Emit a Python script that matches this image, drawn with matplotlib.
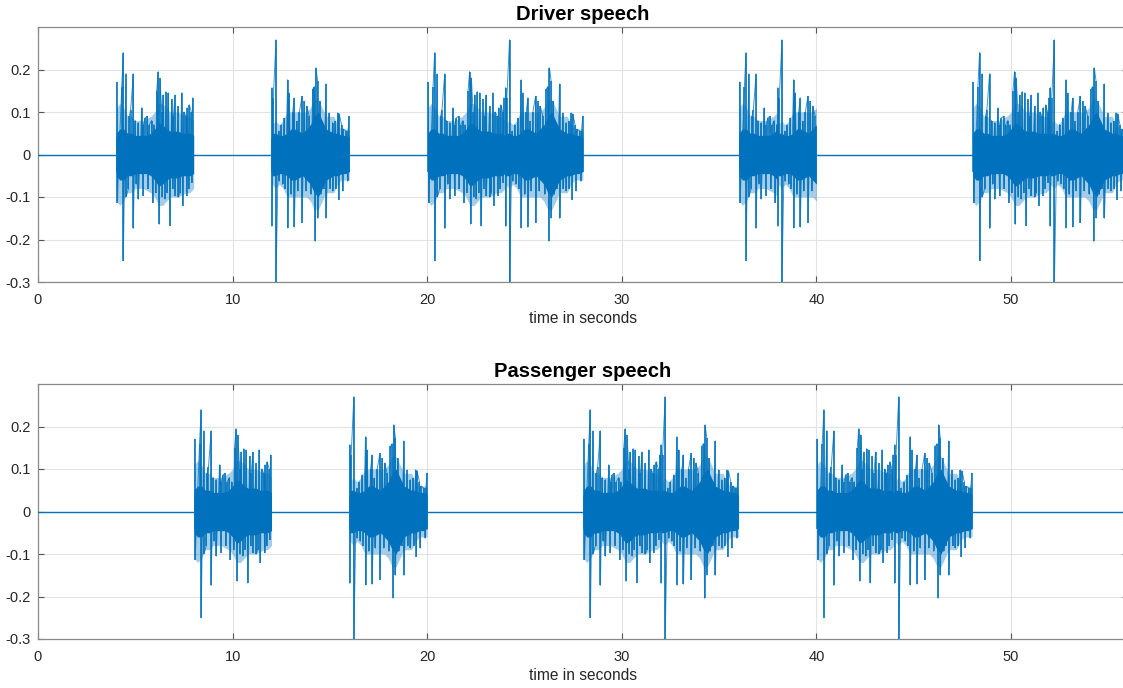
import numpy as np
import matplotlib
matplotlib.use("Agg")
import matplotlib.pyplot as plt

plt.rcParams['font.family'] = ['Liberation Sans', 'DejaVu Sans']
plt.rcParams['axes.unicode_minus'] = False

# ---------------- data ----------------
# Utterance A (4 s): positive peaks, negative peaks, dense core and hairy mid band amplitude
A_up_t = [0.05, 0.30, 0.385, 0.52, 0.69, 0.76, 0.90, 1.00, 1.16, 1.33, 1.42, 1.50, 1.62, 1.72, 1.84,
          1.95, 2.10, 2.18, 2.27, 2.36, 2.44, 2.58, 2.70, 2.87, 2.96, 3.04, 3.21, 3.38, 3.50, 3.60,
          3.67, 3.78, 3.88, 3.95]
A_up_v = [0.17, 0.16, 0.24, 0.19, 0.09, 0.105, 0.19, 0.08, 0.075, 0.11, 0.07, 0.086, 0.09, 0.07, 0.08,
          0.07, 0.15, 0.195, 0.18, 0.10, 0.14, 0.148, 0.145, 0.13, 0.09, 0.14, 0.113, 0.145, 0.10, 0.09,
          0.11, 0.117, 0.10, 0.133]
A_dn_t = [0.077, 0.385, 0.52, 0.65, 0.90, 1.05, 1.16, 1.41, 1.65, 1.89, 2.05, 2.23, 2.38, 2.53, 2.65,
          2.78, 2.92, 3.04, 3.21, 3.30, 3.43, 3.64, 3.75, 3.90]
A_dn_v = [-0.113, -0.25, -0.10, -0.08, -0.174, -0.07, -0.105, -0.097, -0.08, -0.113, -0.09, -0.164, -0.10,
          -0.105, -0.09, -0.168, -0.08, -0.097, -0.10, -0.09, -0.12, -0.097, -0.08, -0.066]
A_core = [0.05, 0.06, 0.06, 0.05, 0.05, 0.045, 0.045, 0.045, 0.045, 0.05, 0.06, 0.075, 0.07, 0.06,
          0.055, 0.055, 0.055, 0.05, 0.05, 0.05, 0.045]
A_mid = [0.11, 0.12, 0.11, 0.09, 0.09, 0.08, 0.08, 0.08, 0.085, 0.09, 0.10, 0.12, 0.12, 0.11,
         0.10, 0.10, 0.10, 0.095, 0.09, 0.09, 0.08]

# Utterance B (4 s)
B_up_t = [0.024, 0.093, 0.23, 0.37, 0.50, 0.66, 0.83, 0.915, 1.09, 1.17, 1.29, 1.43, 1.57, 1.69, 1.81,
          1.94, 2.11, 2.20, 2.28, 2.37, 2.49, 2.63, 2.80, 2.97, 3.14, 3.28, 3.40, 3.48, 3.60, 3.69,
          3.83, 3.93, 3.99]
B_up_v = [0.157, 0.133, 0.27, 0.055, 0.07, 0.086, 0.176, 0.145, 0.10, 0.133, 0.078, 0.10, 0.137, 0.125,
          0.114, 0.09, 0.153, 0.16, 0.204, 0.173, 0.125, 0.067, 0.166, 0.098, 0.075, 0.078, 0.098, 0.096,
          0.07, 0.06, 0.055, 0.055, 0.09]
B_dn_t = [0.024, 0.23, 0.40, 0.57, 0.70, 0.83, 1.00, 1.17, 1.34, 1.57, 1.77, 2.03, 2.25, 2.37, 2.54,
          2.68, 2.80, 3.00, 3.14, 3.30, 3.45, 3.65, 3.91]
B_dn_v = [-0.169, -0.30, -0.063, -0.07, -0.08, -0.173, -0.094, -0.171, -0.086, -0.16, -0.086, -0.094,
          -0.204, -0.15, -0.094, -0.08, -0.15, -0.08, -0.086, -0.08, -0.106, -0.086, -0.063]
B_core = [0.05, 0.05, 0.045, 0.045, 0.05, 0.06, 0.06, 0.055, 0.05, 0.06, 0.07, 0.09, 0.10, 0.08,
          0.06, 0.055, 0.05, 0.05, 0.045, 0.045, 0.04]
B_mid = [0.07, 0.08, 0.07, 0.08, 0.10, 0.10, 0.10, 0.10, 0.10, 0.10, 0.11, 0.13, 0.13, 0.11,
         0.09, 0.09, 0.09, 0.07, 0.06, 0.06, 0.06]

# Where each utterance is played (start s, utterance, seconds played)
driver_starts = [4, 12, 20, 24, 36, 38, 48, 52]
driver_utts = ['A', 'B', 'A', 'B', 'A', 'B', 'A', 'B']
driver_durs = [4, 4, 4, 4, 2, 2, 4, 4]
passenger_starts = [8, 16, 28, 32, 40, 44]
passenger_utts = ['A', 'B', 'A', 'B', 'A', 'B']
passenger_durs = [4, 4, 4, 4, 4, 4]
signal_length = 56

titles = ['Driver speech', 'Passenger speech']
xticks = [0, 10, 20, 30, 40, 50]
yticks = [-0.3, -0.2, -0.1, 0, 0.1, 0.2]
ytick_labels = ['-0.3', '-0.2', '-0.1', '0', '0.1', '0.2']

# ---------------- drawing ----------------
utter = {
    'A': (A_up_t, A_up_v, A_dn_t, A_dn_v, A_core, A_mid),
    'B': (B_up_t, B_up_v, B_dn_t, B_dn_v, B_core, B_mid),
}
BLUE = '#0072BD'

W, H = 1123, 688
fig = plt.figure(figsize=(W / 100, H / 100), dpi=100)
px_per_s = 19.46
ax_left = 38 / W
ax_w = signal_length * px_per_s / W
ax_h = 255 / H
axes_bottoms = [(H - 282) / H, (H - 639) / H]


def draw(ax, starts, utts, durs, title):
    ax.plot([0, signal_length], [0, 0], color=BLUE, lw=1.0, zorder=3)
    for s, u, d in zip(starts, utts, durs):
        up_t, up_v, dn_t, dn_v, core, mid = utter[u]
        up_t = np.asarray(up_t); up_v = np.asarray(up_v)
        dn_t = np.asarray(dn_t); dn_v = np.asarray(dn_v)
        core = np.asarray(core); mid = np.asarray(mid)
        ct = np.linspace(0, 4, len(core))
        cm = ct <= d + 1e-9
        cts = ct[cm].copy()
        cts[0] = max(cts[0], 0.03)
        ax.fill_between(s + cts, -mid[cm], mid[cm], color=BLUE, alpha=0.35, lw=0, zorder=3)
        ax.fill_between(s + cts, -core[cm], core[cm], color=BLUE, lw=0, zorder=3)
        mu = up_t <= d
        md = dn_t <= d
        pt = np.concatenate([up_t[mu], dn_t[md]])
        pv = np.concatenate([up_v[mu], dn_v[md]])
        order = np.argsort(pt, kind='stable')
        ax.plot(s + pt[order], pv[order], color=BLUE, lw=0.7, alpha=0.75, zorder=3)
        ax.vlines(s + up_t[mu], -0.04, up_v[mu], color=BLUE, lw=1.1, zorder=3)
        ax.vlines(s + dn_t[md], dn_v[md], 0.04, color=BLUE, lw=1.1, zorder=3)

    ax.set_xlim(0, signal_length)
    ax.set_ylim(-0.3, 0.3)
    ax.set_xticks(xticks)
    ax.set_yticks(yticks)
    ax.set_yticklabels(ytick_labels)
    ax.grid(True, color='#e3e3e3', lw=0.8, zorder=0)
    ax.set_axisbelow(True)
    for sp in ax.spines.values():
        sp.set_color('#8a8a8a')
        sp.set_linewidth(0.9)
    ax.tick_params(axis='both', which='both', direction='in', length=4, width=0.8,
                   color='#555555', labelcolor='#262626', labelsize=10.5,
                   top=True, right=True)
    ax.tick_params(axis='x', pad=8)
    ax.tick_params(axis='y', pad=5)
    ax.set_xlabel('time in seconds', fontsize=11.2, color='#262626', labelpad=3)
    ax.set_title(title, fontsize=14.5, fontweight='bold', color='#000000', pad=5)


for i, (starts, utts, durs) in enumerate([(driver_starts, driver_utts, driver_durs),
                                           (passenger_starts, passenger_utts, passenger_durs)]):
    ax = fig.add_axes([ax_left, axes_bottoms[i], ax_w, ax_h])
    draw(ax, starts, utts, durs, titles[i])

fig.savefig('out.png', dpi=100)
